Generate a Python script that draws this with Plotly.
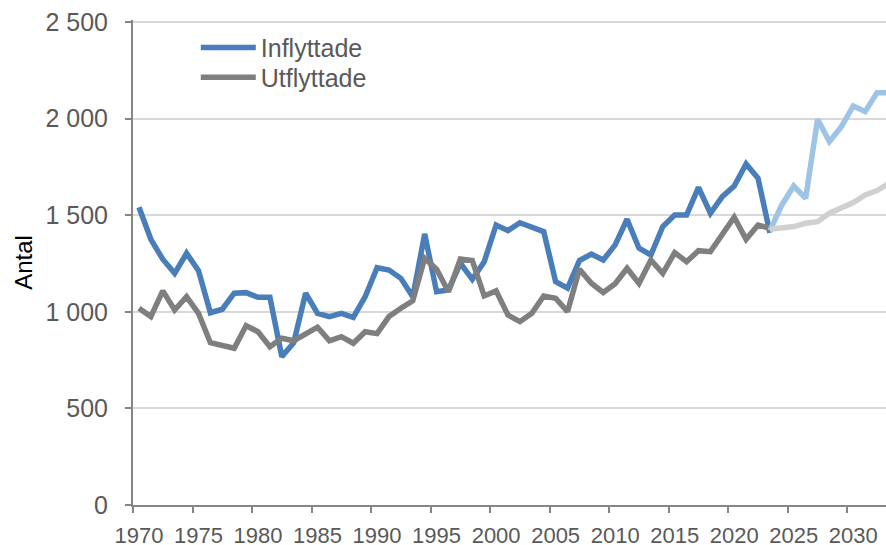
import plotly.graph_objects as go

years_hist = list(range(1970, 2024))
inflyttade = [1541, 1375, 1272, 1199, 1303, 1213, 995, 1013, 1096, 1099,
              1075, 1075, 768, 840, 1096, 992, 975, 992, 971, 1078,
              1228, 1216, 1173, 1078, 1403, 1104, 1113, 1251, 1168, 1259,
              1449, 1420, 1461, 1437, 1415, 1156, 1122, 1265, 1299, 1268,
              1346, 1479, 1329, 1294, 1441, 1501, 1501, 1644, 1510, 1596,
              1651, 1765, 1691, 1408]
utflyttade = [1018, 975, 1108, 1009, 1078, 992, 840, 828, 811, 928,
              897, 819, 863, 850, 889, 920, 850, 871, 837, 897,
              887, 975, 1018, 1057, 1277, 1220, 1104, 1273, 1265, 1082,
              1108, 983, 949, 992, 1082, 1070, 1001, 1220, 1148, 1100,
              1145, 1225, 1147, 1268, 1199, 1306, 1259, 1316, 1311, 1403,
              1489, 1375, 1449, 1432]

years_proj = list(range(2023, 2034))
inflyttade_proj = [1420, 1553, 1651, 1587, 1996, 1881, 1958, 2065, 2036, 2134, 2134]
utflyttade_proj = [1427, 1432, 1441, 1458, 1466, 1510, 1539, 1565, 1605, 1627, 1665]

tick_years = list(range(1970, 2031, 5))
tick_labels = [str(y) for y in tick_years]
y_ticks = [0, 500, 1000, 1500, 2000, 2500]
y_labels = ["0", "500", "1 000", "1 500", "2 000", "2 500"]

BLUE = "#4a7ebb"
GRAY = "#7f7f7f"
LBLUE = "#9dc3e6"
LGRAY = "#d0d0d0"
TXT = "#595959"
AX = "#868686"
FONT = "Liberation Sans, Arial, sans-serif"

fig = go.Figure()
fig.add_trace(go.Scatter(x=years_hist, y=inflyttade, mode="lines", name="Inflyttade",
                         legend="legend", line=dict(color=BLUE, width=5.5)))
fig.add_trace(go.Scatter(x=years_hist, y=utflyttade, mode="lines", name="Utflyttade",
                         legend="legend2", line=dict(color=GRAY, width=5.5)))
fig.add_trace(go.Scatter(x=years_proj, y=inflyttade_proj, mode="lines", showlegend=False,
                         line=dict(color=LBLUE, width=5.5)))
fig.add_trace(go.Scatter(x=years_proj, y=utflyttade_proj, mode="lines", showlegend=False,
                         line=dict(color=LGRAY, width=5.5)))

leg_common = dict(xanchor="left", yanchor="top", font=dict(size=25, color=TXT),
                  bgcolor="rgba(0,0,0,0)", itemwidth=55)
fig.update_layout(
    width=886, height=545,
    margin=dict(l=133, r=0, t=20, b=40),
    plot_bgcolor="white", paper_bgcolor="white",
    font=dict(family=FONT, color=TXT),
    legend=dict(x=0.0834, y=0.99, **leg_common),
    legend2=dict(x=0.0834, y=0.929, **leg_common),
)
fig.update_xaxes(
    range=[1969.5, 2032.75], automargin=False,
    tickmode="array", tickvals=tick_years, ticktext=tick_labels,
    ticks="", tickfont=dict(size=22, color=TXT),
    showgrid=False, zeroline=False,
    showline=True, linecolor=AX, linewidth=2,
    ticklabelstandoff=10,
    minor=dict(tickmode="array", tickvals=[y - 0.5 for y in tick_years] + [2034.5],
               ticks="outside", ticklen=6, tickcolor=AX, tickwidth=1.5, showgrid=False),
)
fig.update_yaxes(
    range=[0, 2510], automargin=False,
    tickmode="array", tickvals=y_ticks, ticktext=y_labels,
    ticks="outside", ticklen=6, tickcolor=AX, tickwidth=1.5,
    tickfont=dict(size=25, color=TXT),
    showgrid=True, gridcolor="#d9d9d9", gridwidth=1.5,
    zeroline=False, showline=True, linecolor=AX, linewidth=2,
    ticklabelstandoff=12,
    title=dict(text="Antal", font=dict(size=24, color="black"), standoff=6),
)

fig.write_html("out.html",
               config=dict(displayModeBar=False),
               post_script="document.body.style.margin='0';document.body.style.overflow='hidden';")
